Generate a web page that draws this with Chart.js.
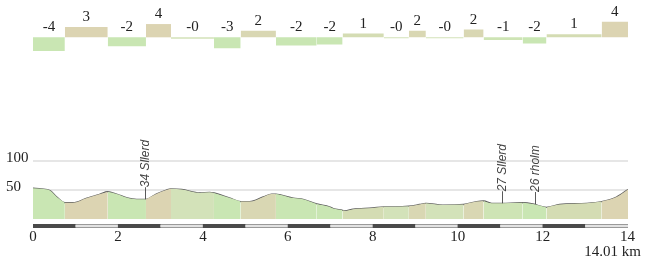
<!DOCTYPE html>
<html>
<head>
<meta charset="utf-8">
<script src="https://cdn.jsdelivr.net/npm/chart.js@4.4.0/dist/chart.umd.min.js"></script>
<style>
  html, body { margin: 0; padding: 0; background: #fff; }
  #wrap { position: relative; width: 650px; height: 259px; }
  canvas { position: absolute; left: 0; top: 0; }
</style>
</head>
<body>
<div id="wrap">
  <canvas id="profile" width="650" height="259"></canvas>
  <canvas id="grades" width="650" height="70"></canvas>
</div>
<script>
// segment boundaries in km, grade per segment (%) and the label shown above it
const segBounds = [0, 0.75, 1.76, 2.66, 3.25, 4.26, 4.89, 5.72, 6.68, 7.29, 8.26, 8.85, 9.25, 10.14, 10.61, 11.53, 12.09, 13.39, 14.01];
const gradeValues = [-4.0, 3.0, -2.6, 3.9, -0.4, -3.2, 1.9, -2.4, -2.1, 1.1, -0.3, 1.9, -0.3, 2.3, -0.8, -1.8, 0.9, 4.6];
const gradeLabels = ['-4', '3', '-2', '4', '-0', '-3', '2', '-2', '-2', '1', '-0', '2', '-0', '2', '-1', '-2', '1', '4'];

// elevation profile (km, m)
const profileKm = [0, 0.2, 0.4, 0.56, 0.75, 0.94, 1.27, 1.58, 1.76, 1.97, 2.2, 2.44, 2.66, 2.9, 3.14, 3.25, 3.5, 3.93, 4.16, 4.26,
  4.64, 4.89, 5.1, 5.42, 5.62, 5.72, 5.81, 6.13, 6.36, 6.68, 6.98, 7.07, 7.29, 7.34, 7.54, 8.0, 8.26, 8.5, 8.85, 9.1, 9.25,
  9.65, 10.14, 10.45, 10.61, 10.8, 11.04, 11.46, 11.53, 11.77, 12.09, 12.4, 13.03, 13.39, 13.74, 14.01];
const profileElev = [53, 52, 49, 38, 28, 28, 36, 43, 47, 43, 37, 34, 34, 43, 50, 52, 51, 45, 46, 45,
  36, 30, 30, 38, 43, 43, 42, 36, 34, 26, 21, 18, 15, 14, 17, 19, 21, 21, 22, 25, 27,
  24, 25, 30, 31, 27, 27, 28, 28, 26, 20, 25, 27, 30, 38, 51];

// waypoints
const markerKm = [2.63, 11.04, 11.82];
const markerElev = [34, 27, 26];
const markerNames = ['Sllerd', 'Sllerd', 'rholm'];

const xTicks = [0, 2, 4, 6, 8, 10, 12, 14];
const yTicks = [50, 100];
const totalLabel = '14.01 km';

const serif = '"Liberation Serif", "Times New Roman", serif';

function gradeColor(label) {
  if (label === '-0') return '#d3e2b9';
  const g = parseInt(label);
  if (g >= 3) return '#dcd4b2';
  if (g === 2) return '#d9d7b3';
  if (g === 1) return '#d4dcb3';
  if (g === -1) return '#cee4b5';
  return '#c9e6b3';
}

// ---- grade bars on top ----
const gradeSets = gradeValues.map((v, i) => ({
  data: [{ x: segBounds[i], y: v }, { x: segBounds[i + 1], y: v }],
  backgroundColor: gradeColor(gradeLabels[i]),
  borderColor: 'transparent',
  borderWidth: 0,
  pointRadius: 0,
  fill: 'origin'
}));

const gradeLabelPlugin = {
  id: 'gradeLabels',
  afterDatasetsDraw(chart) {
    const { ctx, scales: { x, y } } = chart;
    ctx.save();
    ctx.font = '15px ' + serif;
    ctx.fillStyle = '#222';
    ctx.textAlign = 'center';
    ctx.textBaseline = 'alphabetic';
    gradeValues.forEach((v, i) => {
      const cx = x.getPixelForValue((segBounds[i] + segBounds[i + 1]) / 2);
      const top = y.getPixelForValue(Math.max(v, 0));
      ctx.fillText(gradeLabels[i], cx, top - 6);
    });
    ctx.restore();
  }
};

new Chart(document.getElementById('grades'), {
  type: 'line',
  data: { datasets: gradeSets },
  options: {
    responsive: false,
    animation: false,
    layout: { padding: { left: 33, right: 22, top: 0, bottom: 0 } },
    plugins: { legend: { display: false }, tooltip: { enabled: false } },
    scales: {
      x: { type: 'linear', min: 0, max: 14.01, display: false },
      y: { min: -9.6, max: 10.97, display: false }
    }
  },
  plugins: [gradeLabelPlugin]
});

// ---- elevation profile ----
const points = profileKm.map((k, j) => ({ x: k, y: profileElev[j] }));

const fillSets = gradeLabels.map((lab, i) => ({
  data: points.filter(p => p.x >= segBounds[i] && p.x <= segBounds[i + 1]),
  backgroundColor: gradeColor(lab),
  borderColor: 'transparent',
  borderWidth: 0,
  pointRadius: 0,
  cubicInterpolationMode: 'monotone',
  fill: 'origin'
}));

const lineSet = {
  data: points,
  borderColor: '#5e5e5e',
  borderWidth: 1.3,
  pointRadius: 0,
  cubicInterpolationMode: 'monotone',
  fill: false
};

const profileExtras = {
  id: 'profileExtras',
  afterDraw(chart) {
    const { ctx, scales: { x, y }, chartArea } = chart;
    ctx.save();

    // km bar
    const top = chartArea.bottom + 5, h = 4;
    ctx.fillStyle = '#9a9a9a';
    ctx.fillRect(x.left, top, x.right - x.left, h);
    for (let k = 0; k < 14; k++) {
      const a = x.getPixelForValue(k);
      const b = x.getPixelForValue(k === 13 ? 14.01 : k + 1);
      if (k % 2 === 0) {
        ctx.fillStyle = '#4a4a4a';
        ctx.fillRect(a, top, b - a, h);
      } else {
        ctx.fillStyle = '#e2e2e2';
        ctx.fillRect(a, top + 1, b - a, h - 2);
      }
    }

    // waypoints
    ctx.font = 'italic 12px "Liberation Sans", Arial, sans-serif';
    ctx.fillStyle = '#444';
    ctx.textAlign = 'left';
    ctx.textBaseline = 'alphabetic';
    markerKm.forEach((k, i) => {
      const px = x.getPixelForValue(k);
      const py = y.getPixelForValue(markerElev[i]);
      ctx.save();
      ctx.translate(px + 4, py);
      ctx.rotate(-Math.PI / 2);
      ctx.fillText('\u2014' + markerElev[i] + ' ' + markerNames[i], 0, 0);
      ctx.restore();
    });

    // total distance
    ctx.font = '15px ' + serif;
    ctx.fillStyle = '#222';
    ctx.textAlign = 'right';
    ctx.fillText(totalLabel, 641, 256);
    ctx.restore();
  }
};

new Chart(document.getElementById('profile'), {
  type: 'line',
  data: { datasets: [...fillSets, lineSet] },
  options: {
    responsive: false,
    animation: false,
    layout: { padding: { left: 6, right: 22, top: 132, bottom: 0 } },
    plugins: { legend: { display: false }, tooltip: { enabled: false } },
    scales: {
      x: {
        type: 'linear', min: 0, max: 14.01,
        afterBuildTicks: s => { s.ticks = xTicks.map(v => ({ value: v })); },
        afterFit: s => { s.height = 40; },
        grid: { display: false, drawTicks: false },
        border: { display: false },
        ticks: { padding: 9, autoSkip: false, maxRotation: 0, color: '#222', font: { family: serif, size: 15 } }
      },
      y: {
        min: 0, max: 150,
        afterBuildTicks: s => { s.ticks = yTicks.map(v => ({ value: v })); },
        afterFit: s => { s.width = 27; },
        grid: { color: '#e6e6e6', lineWidth: 2, drawTicks: false },
        border: { display: false },
        ticks: { crossAlign: 'far', padding: 0, labelOffset: -3, color: '#222', font: { family: serif, size: 15 } }
      }
    }
  },
  plugins: [profileExtras]
});
</script>
</body>
</html>
